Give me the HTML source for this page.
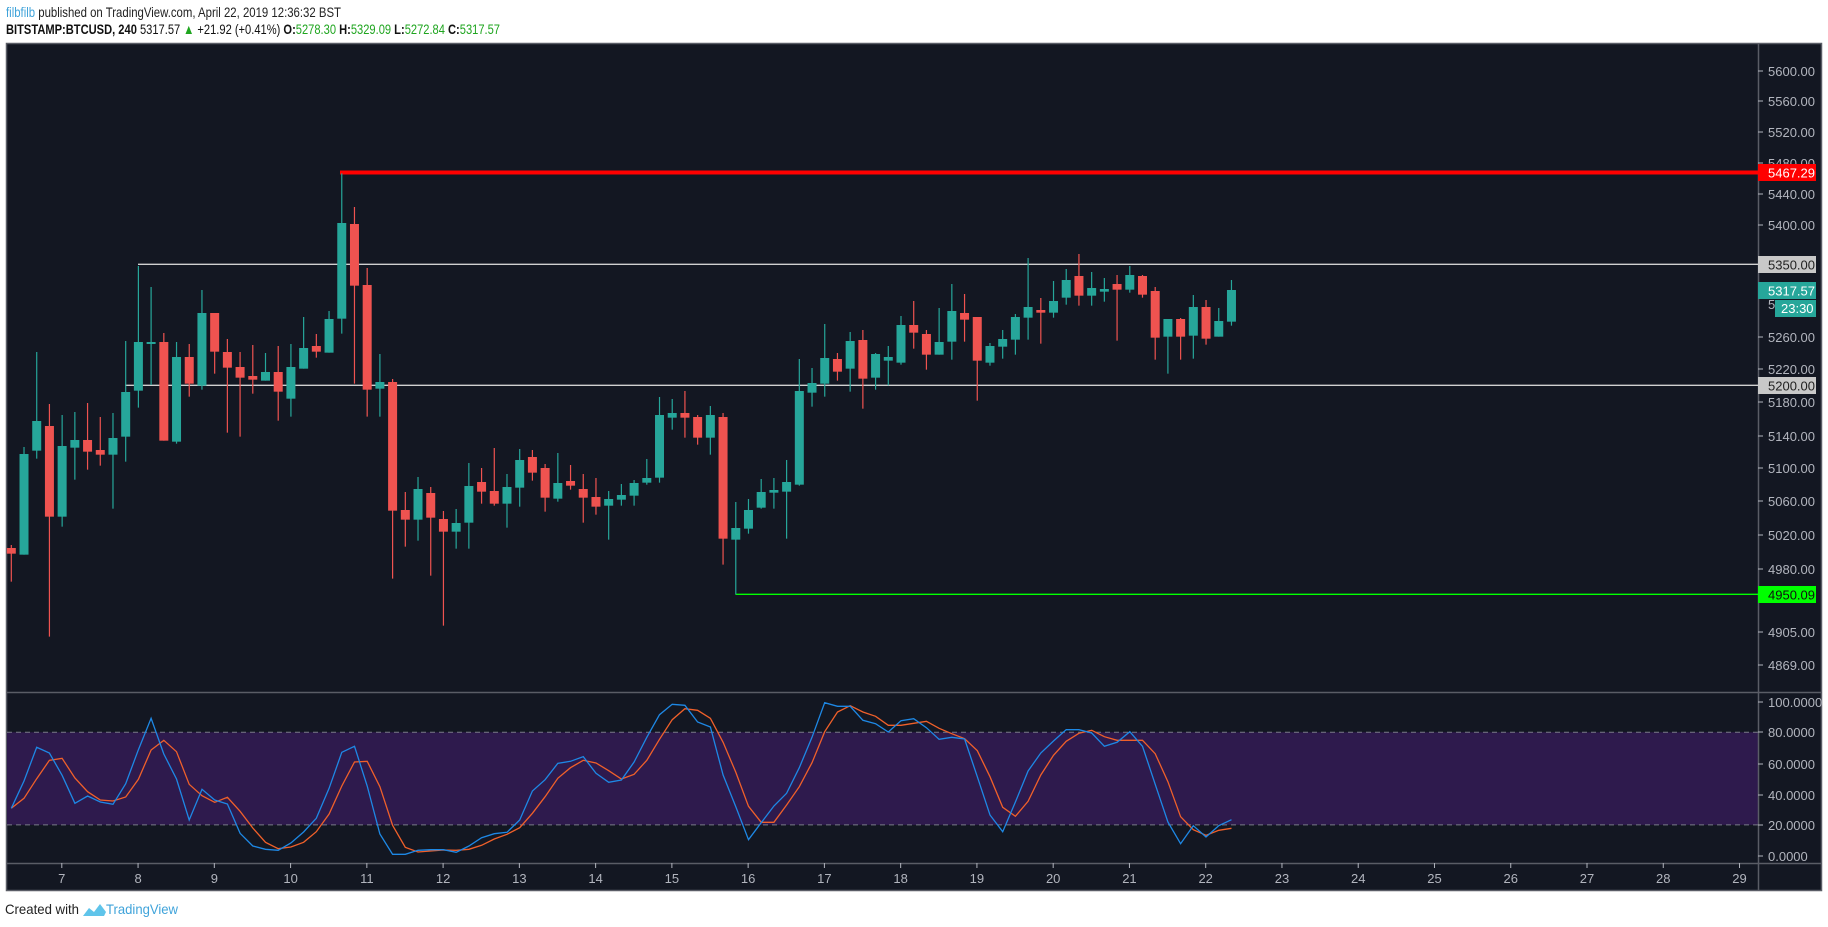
<!DOCTYPE html>
<html><head><meta charset="utf-8"><style>
html,body{margin:0;padding:0;background:#fff;width:1828px;height:927px;overflow:hidden}
svg{display:block}
text{font-family:"Liberation Sans",sans-serif}
</style></head><body>
<svg id="s" width="1828" height="927" viewBox="0 0 1828 927" xmlns="http://www.w3.org/2000/svg">
<rect x="0" y="0" width="1828" height="927" fill="#fff"/>
<text x="6" y="17" font-size="14" textLength="335" lengthAdjust="spacingAndGlyphs" fill="#222"><tspan fill="#3fa3da">filbfilb</tspan> published on TradingView.com, April 22, 2019 12:36:32 BST</text>
<text x="6" y="34" font-size="14" textLength="494" lengthAdjust="spacingAndGlyphs" fill="#111"><tspan font-weight="bold">BITSTAMP:BTCUSD, 240</tspan> 5317.57 <tspan fill="#1fa51f">▲</tspan> +21.92 (+0.41%) <tspan font-weight="bold">O:</tspan><tspan fill="#1fa51f">5278.30</tspan> <tspan font-weight="bold">H:</tspan><tspan fill="#1fa51f">5329.09</tspan> <tspan font-weight="bold">L:</tspan><tspan fill="#1fa51f">5272.84</tspan> <tspan font-weight="bold">C:</tspan><tspan fill="#1fa51f">5317.57</tspan></text>
<rect x="6.5" y="43.5" width="1815" height="847" fill="#131722" stroke="#5a5d66" stroke-width="1.5"/>
<g id="g"></g>
<text x="5" y="914" font-size="14" fill="#222" textLength="74" lengthAdjust="spacingAndGlyphs">Created with</text>
<path d="M83 916 L89 908 L94 912 L100 904 L106 912 L104 916 Z" fill="#5fc4ea"/>
<text x="106" y="914" font-size="14" fill="#3fa3da" textLength="72" lengthAdjust="spacingAndGlyphs">TradingView</text>
</svg>
<script>
var g=document.getElementById('g'),h='';
function X(i){return 11.3+12.71*i;}
// stochastic band
h+='<rect x="7" y="732.3" width="1751" height="92.6" fill="#2e1a4d"/>';
h+='<line x1="7" y1="732.3" x2="1758" y2="732.3" stroke="#787b86" stroke-dasharray="5,4"/>';
h+='<line x1="7" y1="824.9" x2="1758" y2="824.9" stroke="#787b86" stroke-dasharray="5,4"/>';
// separators
h+='<line x1="7" y1="692.5" x2="1821" y2="692.5" stroke="#5a5d66" stroke-width="1.5"/>';
h+='<line x1="7" y1="863.5" x2="1821" y2="863.5" stroke="#5a5d66" stroke-width="1.5"/>';
h+='<line x1="1758.5" y1="43" x2="1758.5" y2="890" stroke="#5a5d66" stroke-width="1.5"/>';
// horizontal lines
h+='<line x1="138" y1="264.3" x2="1758" y2="264.3" stroke="#d0d0d0" stroke-width="1.3"/>';
h+='<line x1="125" y1="385.3" x2="1758" y2="385.3" stroke="#d0d0d0" stroke-width="1.3"/>';
h+='<line x1="340" y1="172.5" x2="1758" y2="172.5" stroke="#ff0000" stroke-width="4"/>';
h+='<line x1="735.5" y1="594.3" x2="1758" y2="594.3" stroke="#00ff00" stroke-width="1.3"/>';
var C=[
['r',1164,1181,1155,1265],['g',882,1184,861,1184],['g',783,872,576,896],['r',798,1070,732,1430],['g',858,1070,765,1100],
['g',840,863,756,959],['r',840,875,729,929],['r',870,884,771,917],['g',834,884,759,1046],['g',696,830,543,905],
['g',546,692,318,743],['g',546,549,381,675],['r',546,842,519,842],['g',591,845,546,851],['r',591,671,552,710],
['g',459,677,390,689],['r',459,575,459,641],['r',576,623,537,818],['r',621,653,576,830],['r',648,659,555,701],
['g',636,662,579,662],['r',636,695,558,782],['g',621,716,552,770],['g',564,626,471,626],['r',558,575,522,593],
['g',477,578,453,578],['g',189,476,40,521],['r',192,377,141,671],['r',375,689,324,770],['g',666,686,582,770],
['r',666,1052,657,1256],['r',1050,1079,996,1160],['g',987,1079,951,1142],['r',999,1073,981,1247],['r',1077,1115,1053,1397],
['g',1089,1115,1047,1166],['g',978,1088,909,1166],['r',966,995,924,1031],['r',993,1031,864,1037],['g',981,1031,942,1103],
['g',900,983,867,1040],['r',891,938,870,962],['r',924,1013,912,1055],['g',969,1016,879,1025],['r',963,977,915,989],
['r',987,1013,942,1088],['r',1011,1040,954,1064],['g',1017,1037,993,1139],['g',1005,1019,972,1037],['g',969,1007,960,1037],
['g',954,968,897,974],['g',765,953,711,968],['g',759,773,717,809],['r',759,773,693,833],['r',771,833,765,854],
['g',765,833,738,884],['r',771,1136,759,1214],['g',1104,1139,1026,1303],['g',1050,1106,1017,1121],['g',996,1043,957,1046],
['g',990,998,954,1046],['g',966,995,900,1136],['g',693,974,597,977],['g',669,698,624,740],['g',594,671,492,710],
['r',597,635,579,662],['g',543,626,516,695],['r',540,656,510,746],['g',582,653,579,689],['g',591,602,558,676],
['g',495,608,468,614],['r',495,518,423,566],['r',522,584,510,629],['g',546,584,444,584],['g',453,545,372,599],
['r',459,479,402,545],['r',471,602,471,722],['g',558,608,549,617],['g',537,560,510,596],['g',471,539,462,584],
['g',441,473,294,539],['r',450,458,414,551],['g',423,458,363,473],['g',360,413,327,434],['r',348,407,282,437],
['g',384,407,336,437],['g',387,395,354,425],['r',372,389,345,542],['g',345,389,318,398],['r',348,404,345,413],
['r',393,533,381,599],['g',477,530,477,641],['r',477,530,474,599],['g',441,527,405,596],['r',441,536,420,554],
['g',483,530,444,530],['g',390,485,360,497]];
function Y(z){return 160+z/3;}
for(var i=0;i<C.length;i++){var c=C[i],col=c[0]=='g'?'#26a69a':'#ef5350',x=X(i);
 var t=Y(c[1]),b=Y(c[2]);if(b-t<2)b=t+2;
 h+='<line x1="'+x+'" y1="'+Y(c[3])+'" x2="'+x+'" y2="'+Y(c[4])+'" stroke="'+col+'" stroke-width="1.2"/>';
 h+='<rect x="'+(x-4.5)+'" y="'+t+'" width="9" height="'+(b-t)+'" fill="'+col+'"/>';}
var B=[385,303,202,219,286,370,348,366,373,311,209,115,222,297,420,328,360,372,460,498,508,511,489,456,415,325,217,199,318,462,523,523,511,509,509,517,498,473,461,457,420,333,299,250,244,230,280,307,
300,246,172,104,73,76,126,141,285,380,479,428,378,340,263,172,68,79,79,121,131,156,122,116,143,178,172,177,290,405,455,366,273,219,183,149,149,159,199,187,155,199,313,426,491,437,471,437,419];
var O=[385,355,296,241,235,294,335,360,363,351,298,210,181,215,313,347,367,352,394,444,487,506,501,487,455,402,318,246,244,320,436,502,516,513,510,511,508,496,477,463,443,400,350,295,263,241,249,272,
297,283,241,178,119,86,91,115,187,277,379,427,427,375,320,248,155,96,77,96,109,136,136,130,124,145,161,176,212,290,382,409,364,285,226,184,160,151,170,181,181,181,221,305,410,449,466,451,445];
function P(a){var s='';for(var i=0;i<a.length;i++)s+=(i?'L':'M')+X(i).toFixed(1)+' '+(680+a[i]/3).toFixed(1)+' ';return s;}
h+='<path d="'+P(O)+'" fill="none" stroke="#f0602a" stroke-width="1.3"/>';
h+='<path d="'+P(B)+'" fill="none" stroke="#1e88e5" stroke-width="1.3"/>';
// price axis labels
var L=[[5600,71],[5560,101],[5520,132],[5480,163],[5440,194],[5400,225],[5260,337],[5220,369],[5180,402],[5140,436],[5100,468],[5060,501],[5020,535],[4980,569],[4940,598],[4905,632],[4869,665]];
for(var k=0;k<L.length;k++){h+='<line x1="1758" y1="'+L[k][1]+'" x2="1763" y2="'+L[k][1]+'" stroke="#b2b5be"/><text x="1768" y="'+(L[k][1]+5)+'" font-size="13" fill="#b2b5be">'+L[k][0].toFixed(2)+'</text>';}
h+='<text x="1768" y="309" font-size="13" fill="#b2b5be">5280.00</text>';
function box(x,y,w,hh,bg,fg,t){return '<rect x="'+x+'" y="'+y+'" width="'+w+'" height="'+hh+'" fill="'+bg+'"/><text x="'+(x+10)+'" y="'+(y+hh/2+5)+'" font-size="13" fill="'+fg+'">'+t+'</text>';}
h+=box(1758,164,58,17,'#ff0000','#fff','5467.29');
h+=box(1758,256,58,17,'#c8c8c8','#222','5350.00');
h+=box(1758,282,58,17,'#26a69a','#fff','5317.57');
h+='<rect x="1775" y="300" width="41" height="17" fill="#26a69a"/><text x="1781" y="313" font-size="13" fill="#fff">23:30</text>';
h+=box(1758,377,58,17,'#c8c8c8','#222','5200.00');
h+=box(1758,586,58,17,'#00ff00','#111','4950.09');
// stoch axis
var S=[[100,702],[80,732],[60,764],[40,795],[20,825],[0,856]];
for(k=0;k<S.length;k++){h+='<line x1="1758" y1="'+S[k][1]+'" x2="1763" y2="'+S[k][1]+'" stroke="#b2b5be"/><text x="1768" y="'+(S[k][1]+5)+'" font-size="13" fill="#b2b5be">'+S[k][0].toFixed(4)+'</text>';}
// time axis
for(var d=7;d<=29;d++){var x=61.8+(d-7)*76.26;h+='<line x1="'+x+'" y1="863" x2="'+x+'" y2="868" stroke="#b2b5be"/><text x="'+x+'" y="883" font-size="13" fill="#b2b5be" text-anchor="middle">'+d+'</text>';}
g.innerHTML=h;
</script>
</body></html>
